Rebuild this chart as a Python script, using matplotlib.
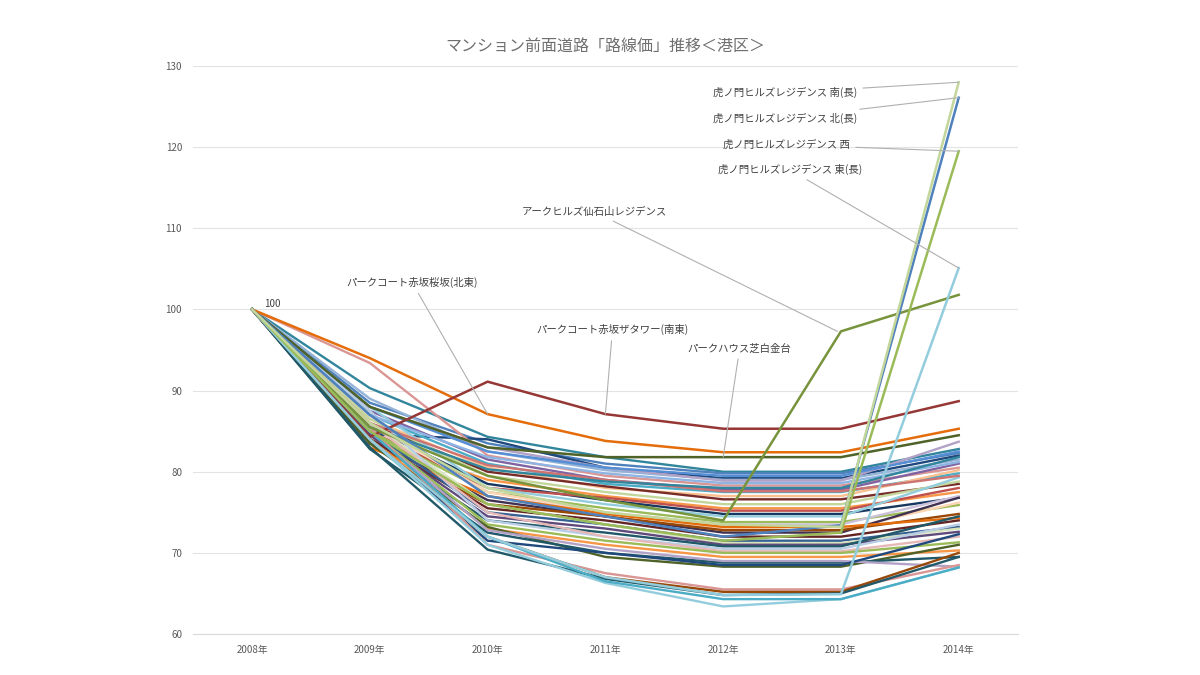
import matplotlib
matplotlib.use("Agg")
import matplotlib.pyplot as plt

plt.rcParams['font.family'] = ['Noto Sans CJK JP', 'DejaVu Sans']

years = ['2008年', '2009年', '2010年', '2011年', '2012年', '2013年', '2014年']

# labelled series (route price index, 2008 = 100)
toranomon_s = [100, 86.0, 78.0, 75.0, 73.5, 73.2, 128.0]
toranomon_n = [100, 87.0, 77.0, 74.5, 72.0, 73.4, 126.1]
toranomon_w = [100, 85.0, 76.0, 73.5, 71.5, 72.5, 119.5]
toranomon_e = [100, 84.0, 72.0, 67.0, 64.8, 64.9, 105.1]
ark_hills = [100, 85.5, 79.5, 76.5, 74.0, 97.3, 101.8]
akasaka_sakurazaka = [100, 94.0, 87.1, 83.8, 82.4, 82.4, 85.3]
akasaka_tower = [100, 84.3, 91.1, 87.1, 85.3, 85.3, 88.7]
shirokanedai = [100, 88.0, 83.0, 81.8, 81.8, 81.8, 84.5]

# the unlabelled bundle of other condominiums
others = [
    [100, 90.3, 84.3, 81.8, 80.0, 80.0, 82.8],
    [100, 88.5, 83.5, 81.0, 79.8, 79.8, 82.3],
    [100, 84.6, 84.0, 80.5, 79.2, 79.2, 82.0],
    [100, 89.0, 82.5, 80.2, 79.0, 79.0, 81.5],
    [100, 93.4, 82.0, 79.5, 78.3, 78.3, 80.5],
    [100, 87.5, 81.5, 79.0, 77.8, 77.8, 81.0],
    [100, 88.0, 83.0, 80.5, 78.9, 78.9, 83.7],
    [100, 87.0, 81.0, 78.5, 77.5, 77.5, 79.8],
    [100, 86.5, 80.5, 78.0, 77.0, 77.0, 80.2],
    [100, 86.0, 80.0, 78.2, 76.6, 76.6, 78.5],
    [100, 86.5, 79.5, 77.5, 76.0, 76.0, 78.8],
    [100, 84.0, 79.0, 77.0, 75.5, 75.5, 77.5],
    [100, 85.5, 78.5, 76.5, 74.8, 74.8, 76.8],
    [100, 85.0, 78.0, 76.8, 75.2, 75.2, 78.0],
    [100, 88.0, 78.0, 76.0, 74.5, 74.5, 79.3],
    [100, 85.0, 77.5, 75.5, 73.8, 73.8, 75.9],
    [100, 87.0, 77.0, 75.0, 73.5, 73.5, 77.0],
    [100, 86.0, 77.5, 75.0, 73.0, 72.8, 76.2],
    [100, 84.0, 76.5, 74.5, 72.5, 72.5, 76.8],
    [100, 83.5, 76.0, 74.5, 72.8, 72.8, 74.8],
    [100, 83.0, 77.0, 74.8, 73.2, 73.2, 74.3],
    [100, 84.0, 75.5, 74.0, 72.0, 72.0, 74.0],
    [100, 85.0, 75.0, 73.5, 71.5, 71.5, 73.2],
    [100, 86.0, 76.0, 73.5, 71.2, 71.2, 73.0],
    [100, 84.5, 74.5, 73.0, 71.0, 71.0, 72.6],
    [100, 83.5, 74.0, 72.5, 70.8, 70.8, 74.5],
    [100, 87.5, 74.0, 72.0, 70.5, 70.5, 73.5],
    [100, 86.0, 75.0, 72.0, 70.2, 70.2, 72.0],
    [100, 85.0, 73.5, 71.5, 70.0, 70.0, 71.3],
    [100, 84.0, 73.0, 71.0, 69.5, 69.5, 70.3],
    [100, 83.5, 73.2, 69.5, 68.3, 68.3, 71.0],
    [100, 82.8, 72.5, 70.0, 68.8, 68.8, 69.5],
    [100, 85.0, 72.8, 70.5, 69.0, 69.0, 68.3],
    [100, 84.0, 71.5, 70.0, 68.5, 68.5, 72.3],
    [100, 85.5, 71.0, 67.5, 65.5, 65.5, 68.5],
    [100, 84.0, 72.0, 67.0, 65.2, 65.2, 70.0],
    [100, 83.0, 70.4, 66.8, 64.8, 65.0, 69.5],
    [100, 84.0, 71.0, 66.3, 63.4, 64.3, 68.2],
    [100, 85.0, 72.0, 66.5, 64.3, 64.3, 68.2],
    [100, 88.0, 82.5, 80.5, 79.5, 79.5, 82.5],
    [100, 87.0, 81.8, 79.8, 78.6, 78.6, 81.2],
    [100, 86.0, 80.8, 79.0, 77.6, 77.6, 79.5],
    [100, 85.5, 80.3, 78.8, 78.0, 78.0, 81.8],
]
other_colors = [
    '#31859C', '#4F81BD', '#1F497D', '#95B3D7', '#D99694', '#8064A2',
    '#B3A2C7', '#4BACC6', '#FAC090', '#772C2A', '#C3D69B', '#F79646',
    '#17375E', '#C0504D', '#93CDDD', '#9BBB59', '#CCC1DA', '#FCD5B5',
    '#403151', '#984807', '#E46C0A', '#632523', '#376092', '#D7E4BD',
    '#604A7B', '#215968', '#B9CDE5', '#E6B9B8', '#9BBB59', '#F79646',
    '#4F6228', '#205867', '#B3A2C7', '#1F497D', '#D99694', '#984807',
    '#215968', '#93CDDD', '#4BACC6', '#558ED5', '#8EB4E3', '#CD7371',
    '#31859C',
]

fig = plt.figure(figsize=(12, 6.75), dpi=100)
ax = fig.add_axes([0.161, 0.0607, 0.687, 0.8415])
x = list(range(len(years)))

for vals, c in zip(others, other_colors):
    ax.plot(x, vals, color=c, lw=1.7)

ax.plot(x, shirokanedai, color='#4F6228', lw=1.8)
ax.plot(x, akasaka_sakurazaka, color='#E46C0A', lw=1.8)
ax.plot(x, akasaka_tower, color='#953735', lw=1.8)
ax.plot(x, ark_hills, color='#77933C', lw=1.8)
ax.plot(x, toranomon_e, color='#93CDDD', lw=1.8)
ax.plot(x, toranomon_w, color='#9BBB59', lw=1.8)
ax.plot(x, toranomon_n, color='#4F81BD', lw=1.8)
ax.plot(x, toranomon_s, color='#C3D69B', lw=1.8)

ax.set_xlim(-0.5, len(years) - 0.5)
ax.set_ylim(60, 130)
ax.set_yticks(range(60, 131, 10))
ax.set_xticks(x)
ax.set_xticklabels(years)
ax.grid(axis='y', color='#e3e3e3', lw=0.8)
ax.set_axisbelow(True)
for s in ['top', 'right', 'left']:
    ax.spines[s].set_visible(False)
ax.spines['bottom'].set_color('#d9d9d9')
ax.tick_params(length=0, labelsize=7, colors='#595959', pad=8)

ax.set_title('マンション前面道路「路線価」推移＜港区＞', fontsize=11.5,
             color='#6f6f6f', pad=11)

ax.text(0.1, 100, '100', fontsize=7, color='#404040', va='bottom')

lead = dict(arrowstyle='-', color='#b0b0b0', lw=0.8, shrinkA=2, shrinkB=0)
kw = dict(fontsize=7.5, color='#404040', arrowprops=lead)
ax.annotate('パークコート赤坂桜坂(北東)', xy=(2.0, 87.1), xytext=(1.36, 103.3),
            ha='center', va='center', **kw)
ax.annotate('パークコート赤坂ザタワー(南東)', xy=(3.0, 87.1), xytext=(3.06, 97.5),
            ha='center', va='center', **kw)
ax.annotate('パークハウス芝白金台', xy=(4.0, 81.8), xytext=(4.14, 95.2),
            ha='center', va='center', **kw)
ax.annotate('アークヒルズ仙石山レジデンス', xy=(4.97, 97.3), xytext=(2.91, 112.0),
            ha='center', va='center', **kw)
ax.annotate('虎ノ門ヒルズレジデンス 南(長)', xy=(6.0, 128.0), xytext=(5.14, 126.7),
            ha='right', va='center', **kw)
ax.annotate('虎ノ門ヒルズレジデンス 北(長)', xy=(6.0, 126.1), xytext=(5.14, 123.6),
            ha='right', va='center', **kw)
ax.annotate('虎ノ門ヒルズレジデンス 西', xy=(6.0, 119.5), xytext=(5.08, 120.3),
            ha='right', va='center', **kw)
ax.annotate('虎ノ門ヒルズレジデンス 東(長)', xy=(6.0, 105.1), xytext=(5.18, 117.2),
            ha='right', va='center', **kw)

fig.savefig('out.png', dpi=100, facecolor='white')
